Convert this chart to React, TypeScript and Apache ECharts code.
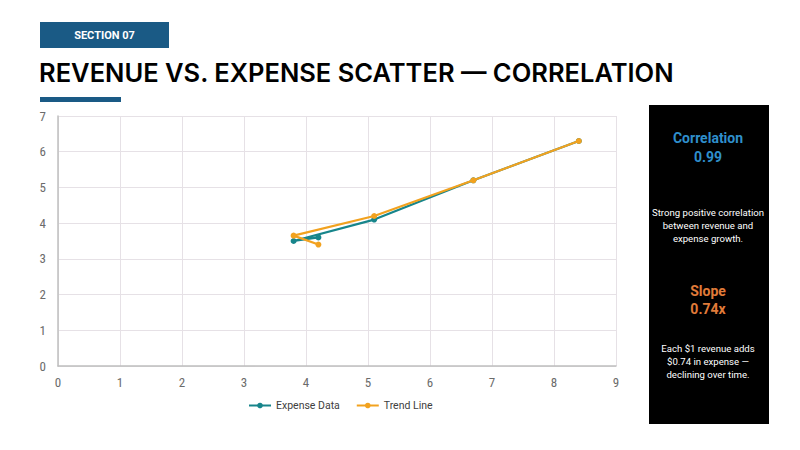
import React, { useEffect, useRef } from "react";
import * as echarts from "echarts";

const revenue = [4.2, 3.8, 5.1, 6.7, 8.4];
const expenseData = [3.6, 3.5, 4.1, 5.2, 6.3];
const trendLine = [3.4, 3.65, 4.2, 5.2, 6.3];
const seriesNames = ["Expense Data", "Trend Line"];
const xTicks = [0, 9, 1];
const yTicks = [0, 7, 1];

const TEAL = "#17858b";
const ORANGE = "#f2a21f";
const NAVY = "#1a5a85";
const FONT = "Roboto, 'Noto Sans', sans-serif";

export default function App() {
  const ref = useRef<HTMLDivElement>(null);
  useEffect(() => {
    if (!ref.current) return;
    const chart = echarts.init(ref.current, null, { renderer: "svg" });
    const pairs = (ys: number[]) => revenue.map((x, i) => [x, ys[i]]);
    chart.setOption({
      animation: false,
      backgroundColor: "#ffffff",
      textStyle: { fontFamily: FONT },
      grid: { left: 58, right: 184, top: 116, bottom: 84, containLabel: false },
      xAxis: {
        type: "value",
        min: xTicks[0],
        max: xTicks[1],
        interval: xTicks[2],
        axisLine: { show: true, lineStyle: { color: "#bfbfbf", width: 1.5 } },
        axisTick: { show: false },
        axisLabel: { color: "#6b6b6b", fontSize: 13, margin: 10, fontFamily: "'Roboto Condensed', Roboto, sans-serif" },
        splitLine: { show: true, lineStyle: { color: "#e6e1e6", width: 1 } },
      },
      yAxis: {
        type: "value",
        min: yTicks[0],
        max: yTicks[1],
        interval: yTicks[2],
        axisLine: { show: true, lineStyle: { color: "#bfbfbf", width: 1.5 } },
        axisTick: { show: false },
        axisLabel: { color: "#6b6b6b", fontSize: 13, margin: 12, fontFamily: "'Roboto Condensed', Roboto, sans-serif" },
        splitLine: { show: true, lineStyle: { color: "#e6e1e6", width: 1 } },
      },
      legend: {
        bottom: 34,
        left: 243,
        itemWidth: 22,
        itemHeight: 7,
        itemGap: 16,
        textStyle: { color: "#404040", fontSize: 10.5, fontFamily: FONT },
        data: seriesNames,
      },
      series: [
        {
          name: seriesNames[0],
          type: "line",
          data: pairs(expenseData),
          symbol: "circle",
          symbolSize: 6,
          lineStyle: { color: TEAL, width: 2.2 },
          itemStyle: { color: TEAL },
          z: 2,
        },
        {
          name: seriesNames[1],
          type: "line",
          data: pairs(trendLine),
          symbol: "circle",
          symbolSize: 6,
          lineStyle: { color: ORANGE, width: 2.2 },
          itemStyle: { color: ORANGE },
          z: 3,
        },
      ],
      graphic: [
        { type: "rect", shape: { x: 40, y: 22, width: 129, height: 26 }, style: { fill: NAVY } },
        {
          type: "text",
          x: 104.5,
          y: 35,
          style: {
            text: "SECTION 07",
            fill: "#ffffff",
            font: `bold 11px ${FONT}`,
            align: "center",
            verticalAlign: "middle",
          },
        },
        {
          type: "text",
          x: 39,
          y: 72,
          style: {
            text: "REVENUE VS. EXPENSE SCATTER — CORRELATION",
            fill: "#000000",
            font: `600 25.5px Inter, ${FONT}`,
            align: "left",
            verticalAlign: "middle",
          },
        },
        { type: "rect", shape: { x: 40, y: 97, width: 81, height: 5 }, style: { fill: NAVY } },
        { type: "rect", shape: { x: 649, y: 105, width: 120, height: 319 }, style: { fill: "#000000" } },
        {
          type: "text",
          x: 708,
          y: 138,
          style: { text: "Correlation", fill: "#2f8fcc", font: `bold 14px ${FONT}`, align: "center", verticalAlign: "middle" },
        },
        {
          type: "text",
          x: 708,
          y: 157,
          style: { text: "0.99", fill: "#2f8fcc", font: `bold 14px ${FONT}`, align: "center", verticalAlign: "middle" },
        },
        {
          type: "text",
          x: 708,
          y: 225,
          style: {
            text: "Strong positive correlation\nbetween revenue and\nexpense growth.",
            fill: "#ffffff",
            font: `9.6px ${FONT}`,
            lineHeight: 13,
            align: "center",
            verticalAlign: "middle",
          },
        },
        {
          type: "text",
          x: 708,
          y: 291,
          style: { text: "Slope", fill: "#e07b39", font: `bold 14px ${FONT}`, align: "center", verticalAlign: "middle" },
        },
        {
          type: "text",
          x: 708,
          y: 309,
          style: { text: "0.74x", fill: "#e07b39", font: `bold 14px ${FONT}`, align: "center", verticalAlign: "middle" },
        },
        {
          type: "text",
          x: 708,
          y: 361,
          style: {
            text: "Each $1 revenue adds\n$0.74 in expense —\ndeclining over time.",
            fill: "#ffffff",
            font: `9.6px ${FONT}`,
            lineHeight: 13,
            align: "center",
            verticalAlign: "middle",
          },
        },
      ],
    });
    return () => chart.dispose();
  }, []);
  return <div ref={ref} style={{ position: "fixed", left: 0, top: 0, width: 800, height: 450 }} />;
}
